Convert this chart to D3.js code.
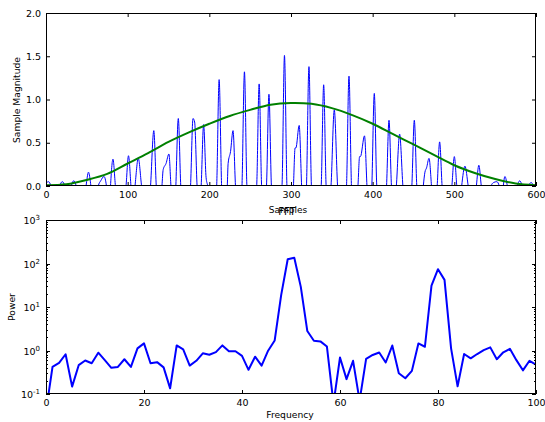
<!DOCTYPE html>
<meta charset="utf-8">
<head>
    <title>Samples and FFT</title>
    <script type="text/javascript" src="https://d3js.org/d3.v7.min.js"></script>
    <style>
        body { margin: 0; background: #fff; }
        text { font-family: "DejaVu Sans", sans-serif; fill: #000; }
        .domain { stroke: none; }
        .tick line { stroke: #000; stroke-width: 1; }
    </style>
</head>
<body>
    <div id="chart"></div>

    <script>
        // top plot: windowed samples (sample index, magnitude)
        var sampleX = [0, 3, 6, 12, 17, 20, 23, 27, 31, 34, 37, 43, 49, 52, 55, 59,
            64, 67, 71, 74, 77, 79, 82, 85, 91, 98, 101, 104, 106, 109, 113, 117, 123,
            128, 132, 135, 139, 142, 143.5, 147, 150.5, 153, 157, 159, 162, 165, 171,
            177, 180, 182, 185, 188, 190, 193, 196, 198, 204, 209, 212, 215, 219,
            222, 223, 226, 229, 232, 236, 240, 243, 246, 252, 258, 261, 264, 267,
            270, 273, 276, 282, 289, 292, 295, 299, 303, 305, 306, 310, 313, 316,
            319, 322, 325, 331, 337, 340, 343, 346, 349, 353, 357, 363, 368, 371, 374, 378,
            382, 384, 385, 390, 393, 396, 399, 402, 405, 411, 417, 420, 423, 426,
            429, 433, 437, 443, 448, 451, 454, 458, 462, 464, 466, 469, 472, 475,
            479, 482, 485, 491, 497, 500, 503, 506, 509, 513, 517, 523, 527, 530, 533, 538,
            545, 548, 552, 555, 558, 560, 562, 565, 571, 577, 580, 583, 588, 591, 594, 597, 600];
        var sampleY = [0.03, 0.05, 0, -0.4, 0, 0.05, 0, -0.4, 0, 0.06, 0, -0.4, 0, 0.16, 0, -0.4,
            0, 0.06, 0.11, 0, -0.4, 0, 0.31, 0, -0.5, 0, 0.35, 0, -0.3, 0, 0.32, 0, -0.5,
            0, 0.64, 0, -0.5, 0, 0.19, 0.26, 0.37, 0, -0.5, 0, 0.78, 0, -0.6,
            0, 0.78, 0.74, 0, -0.3, 0, 0.71, 0.1, 0, -0.6, 0, 1.23, 0, -0.6,
            0, 0.26, 0.4, 0.64, 0, -0.6, 0, 1.32, 0, -0.6, 0, 1.18, 0, -0.3,
            0, 1.06, 0, -0.6, 0, 1.51, 0, -0.6, 0, 0.44, 0.44, 0.70, 0, -0.6,
            0, 1.38, 0, -0.6, 0, 1.17, 0, -0.3, 0, 0.88, 0, -0.6, 0, 1.27, 0, -0.6,
            0, 0.34, 0.34, 0.58, 0, -0.6, 0, 1.07, 0, -0.6, 0, 0.76, 0, -0.3,
            0, 0.60, 0, -0.6, 0, 0.76, 0, -0.5, 0, 0.16, 0.21, 0.32, 0, -0.5,
            0, 0.51, 0, -0.5, 0, 0.34, 0, -0.3, 0, 0.23, 0, -0.4, 0, 0.24, 0, -0.4,
            0, 0.04, 0.05, 0, -0.3, 0, 0.11, 0, -0.3, 0, 0.06, 0, -0.3, 0, 0.04, 0, -0.1];

        // top plot: window envelope
        var windowX = [0, 25, 50, 75, 100, 125, 150, 175, 200, 225, 250, 275, 300,
            325, 350, 375, 400, 425, 450, 475, 500, 525, 550, 575, 600];
        var windowY = [0.01, 0.02, 0.07, 0.14, 0.26, 0.38, 0.51, 0.62, 0.72, 0.81, 0.88, 0.94, 0.96,
            0.95, 0.90, 0.82, 0.72, 0.60, 0.48, 0.36, 0.24, 0.15, 0.08, 0.03, 0.01];

        // bottom plot: FFT power spectrum
        var frequency = [0, 1.33, 2.67, 4, 5.33, 6.67, 8, 9.33, 10.67, 12, 13.33, 14.67,
            16, 17.33, 18.67, 20, 21.33, 22.67, 24, 25.33, 26.67, 28, 29.33, 30.67,
            32, 33.33, 34.67, 36, 37.33, 38.67, 40, 41.33, 42.67, 44, 45.33, 46.67,
            48, 49.33, 50.67, 52, 53.33, 54.67, 56, 57.33, 58.67, 60, 61.33, 62.67,
            64, 65.33, 66.67, 68, 69.33, 70.67, 72, 73.33, 74.67, 76, 77.33, 78.67,
            80, 81.33, 82.67, 84, 85.33, 86.67, 88, 89.33, 90.67, 92, 93.33, 94.67,
            96, 97.33, 98.67, 100];
        var power = [0.04, 0.42, 0.52, 0.82, 0.148, 0.46, 0.59, 0.51, 0.89, 0.60, 0.40, 0.42,
            0.63, 0.42, 1.12, 1.46, 0.51, 0.54, 0.41, 0.135, 1.31, 1.06, 0.45, 0.58,
            0.86, 0.80, 0.92, 1.31, 0.96, 0.96, 0.75, 0.36, 0.72, 0.45, 0.99, 1.7,
            19, 125, 136, 29, 2.8, 1.68, 1.62, 1.23, 0.06, 0.69, 0.22, 0.58,
            0.07, 0.64, 0.79, 0.90, 0.53, 1.30, 0.30, 0.23, 0.34, 1.45, 1.22, 31,
            74, 42, 1.12, 0.15, 0.83, 0.66, 0.83, 1.02, 1.18, 0.63, 0.91, 1.09,
            0.60, 0.35, 0.58, 0.47];

        var topTicksX = [0, 100, 200, 300, 400, 500, 600];
        var topTicksY = [0.0, 0.5, 1.0, 1.5, 2.0];
        var bottomTicksX = [0, 20, 40, 60, 80, 100];
        var bottomTicksY = [0.1, 1, 10, 100, 1000];

        var width = 545;
        var height = 422;
        var left = 46, right = 536;

        var svg = d3.select("#chart").append("svg")
                    .attr("width", width)
                    .attr("height", height);

        // scales
        var x1 = d3.scaleLinear().domain([0, 600]).range([left, right]);
        var y1 = d3.scaleLinear().domain([0, 2]).range([186, 13]);
        var x2 = d3.scaleLinear().domain([0, 100]).range([left, right]);
        var y2 = d3.scaleLog().domain([0.1, 1000]).range([394, 220]);

        var defs = svg.append("defs");
        defs.append("clipPath").attr("id", "clipTop").append("rect")
            .attr("x", left).attr("y", 13).attr("width", right - left).attr("height", 173);
        defs.append("clipPath").attr("id", "clipBottom").append("rect")
            .attr("x", left).attr("y", 220).attr("width", right - left).attr("height", 174);

        // ---- top plot ----
        var samples = sampleX.map(function(d, i) { return [d, sampleY[i]]; });
        var envelope = windowX.map(function(d, i) { return [d, windowY[i]]; });

        var lineTop = d3.line()
                        .x(function(d) { return x1(d[0]); })
                        .y(function(d) { return y1(d[1]); })
                        .curve(d3.curveMonotoneX);

        var gTop = svg.append("g").attr("clip-path", "url(#clipTop)");
        gTop.append("path")
            .datum(samples)
            .attr("d", lineTop)
            .attr("fill", "none")
            .attr("stroke", "#0000ff")
            .attr("stroke-width", 1);
        gTop.append("path")
            .datum(envelope)
            .attr("d", lineTop.curve(d3.curveCatmullRom))
            .attr("fill", "none")
            .attr("stroke", "#008000")
            .attr("stroke-width", 2);

        svg.append("g")
           .attr("transform", "translate(0,186)")
           .style("font-size", "9.5px")
           .call(d3.axisBottom(x1).tickValues(topTicksX).tickSize(-4).tickPadding(5).tickFormat(d3.format("d")));
        svg.append("g")
           .attr("transform", "translate(0,13)")
           .call(d3.axisTop(x1).tickValues(topTicksX).tickSize(-4).tickFormat(""));
        svg.append("g")
           .attr("transform", "translate(" + left + ",0)")
           .style("font-size", "9.5px")
           .call(d3.axisLeft(y1).tickValues(topTicksY).tickSize(-4).tickPadding(5).tickFormat(d3.format(".1f")));
        svg.append("g")
           .attr("transform", "translate(" + right + ",0)")
           .call(d3.axisRight(y1).tickValues(topTicksY).tickSize(-4).tickFormat(""));

        svg.append("rect")
           .attr("x", left + 0.5).attr("y", 13.5)
           .attr("width", right - left - 1).attr("height", 172)
           .attr("fill", "none").attr("stroke", "#000");

        svg.append("text")
           .attr("transform", "translate(20,100) rotate(-90)")
           .attr("text-anchor", "middle")
           .style("font-size", "9.2px")
           .text("Sample Magnitude");

        svg.append("text")
           .attr("x", 288).attr("y", 213)
           .attr("text-anchor", "middle")
           .style("font-size", "9px")
           .text("Samples");

        // ---- bottom plot ----
        var spectrum = frequency.map(function(d, i) { return [d, power[i]]; });

        svg.append("g").attr("clip-path", "url(#clipBottom)")
           .append("path")
           .datum(spectrum)
           .attr("d", d3.line()
                        .x(function(d) { return x2(d[0]); })
                        .y(function(d) { return y2(d[1]); }))
           .attr("fill", "none")
           .attr("stroke", "#0000ff")
           .attr("stroke-width", 2)
           .attr("stroke-linejoin", "round");

        svg.append("g")
           .attr("transform", "translate(0,394)")
           .style("font-size", "9.5px")
           .call(d3.axisBottom(x2).tickValues(bottomTicksX).tickSize(-4).tickPadding(5).tickFormat(d3.format("d")));
        svg.append("g")
           .attr("transform", "translate(0,220)")
           .call(d3.axisTop(x2).tickValues(bottomTicksX).tickSize(-4).tickFormat(""));

        // minor ticks of the log axis
        var minorTicks = y2.ticks().filter(function(d) { return bottomTicksY.indexOf(d) < 0; });
        [left, right].forEach(function(xPos, side) {
            var dir = side === 0 ? 1 : -1;
            svg.append("g").selectAll("line")
               .data(minorTicks)
               .enter().append("line")
               .attr("x1", xPos).attr("x2", xPos + dir * 2)
               .attr("y1", function(d) { return Math.round(y2(d)) + 0.5; })
               .attr("y2", function(d) { return Math.round(y2(d)) + 0.5; })
               .attr("stroke", "#000");
            svg.append("g").selectAll("line")
               .data(bottomTicksY)
               .enter().append("line")
               .attr("x1", xPos).attr("x2", xPos + dir * 4)
               .attr("y1", function(d) { return Math.round(y2(d)) + 0.5; })
               .attr("y2", function(d) { return Math.round(y2(d)) + 0.5; })
               .attr("stroke", "#000");
        });

        // log labels 10^n
        var logLabels = svg.append("g").selectAll("text")
                           .data(bottomTicksY)
                           .enter().append("text")
                           .attr("x", 40)
                           .attr("y", function(d) { return y2(d) + 4; })
                           .attr("text-anchor", "end")
                           .style("font-size", "9.5px");
        logLabels.append("tspan").text("10");
        logLabels.append("tspan")
                 .attr("dy", "-4")
                 .style("font-size", "7px")
                 .text(function(d) { return Math.round(Math.log10(d)); });

        svg.append("rect")
           .attr("x", left + 0.5).attr("y", 220.5)
           .attr("width", right - left - 1).attr("height", 173)
           .attr("fill", "none").attr("stroke", "#000");

        svg.append("text")
           .attr("transform", "translate(14.5,307) rotate(-90)")
           .attr("text-anchor", "middle")
           .style("font-size", "9.2px")
           .text("Power");

        svg.append("text")
           .attr("x", 290).attr("y", 418)
           .attr("text-anchor", "middle")
           .style("font-size", "9.2px")
           .text("Frequency");

        svg.append("text")
           .attr("x", 287).attr("y", 215)
           .attr("text-anchor", "middle")
           .style("font-size", "10px")
           .text("FFT");
    </script>
</body>
</html>
